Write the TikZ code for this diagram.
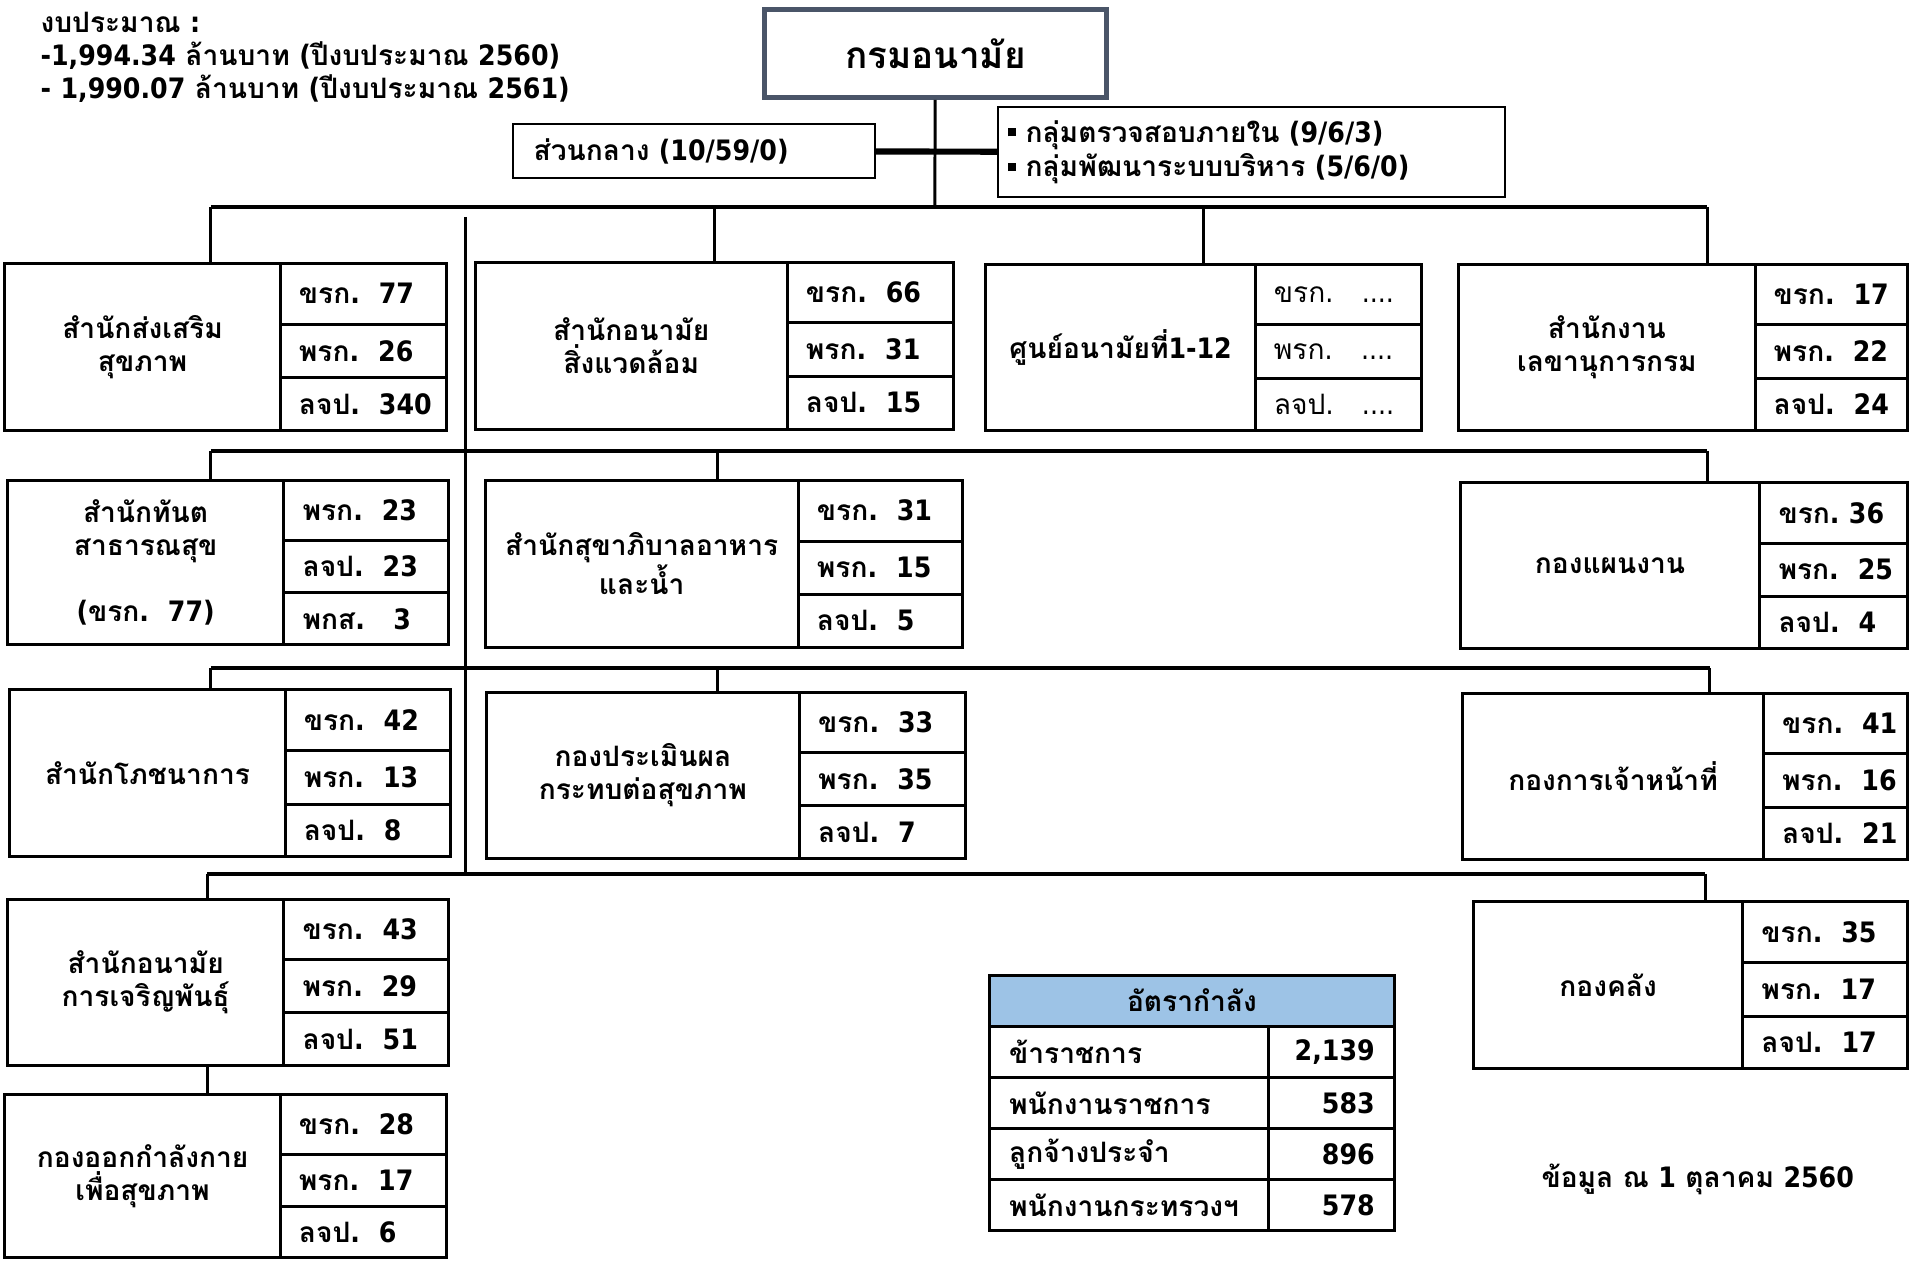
\documentclass[tikz,border=0pt]{standalone}
\usepackage{fontspec}
\setmainfont[Script=Thai]{Loma}
\newfontfamily\digitfam{DejaVu Sans Condensed}
% digits and punctuation in a wider face
\XeTeXinterchartokenstate=1
\newXeTeXintercharclass\digclass
\XeTeXcharclass`\0=\digclass
\XeTeXcharclass`\1=\digclass
\XeTeXcharclass`\2=\digclass
\XeTeXcharclass`\3=\digclass
\XeTeXcharclass`\4=\digclass
\XeTeXcharclass`\5=\digclass
\XeTeXcharclass`\6=\digclass
\XeTeXcharclass`\7=\digclass
\XeTeXcharclass`\8=\digclass
\XeTeXcharclass`\9=\digclass
\XeTeXcharclass`\,=\digclass
\XeTeXcharclass`\.=\digclass
\XeTeXcharclass`\(=\digclass
\XeTeXcharclass`\)=\digclass
\XeTeXcharclass`\/=\digclass
\XeTeXcharclass`\-=\digclass
\XeTeXcharclass`\:=\digclass
\XeTeXinterchartoks 0 \digclass = {\digitfam}
\XeTeXinterchartoks 4095 \digclass = {\digitfam}
\XeTeXinterchartoks \digclass 0 = {\rmfamily}
\XeTeXinterchartoks \digclass 4095 = {\rmfamily}
\definecolor{slate}{HTML}{4A5568}
\definecolor{tblue}{HTML}{9DC3E6}
\newcommand{\ux}{0.024375cm}
\newcommand{\sqb}{\rule[0.2em]{0.3em}{0.3em}}
\tikzstyle{bus} = [line width=2.4pt]
\tikzstyle{link} = [line width=1.7pt]
\tikzstyle{unit} = [rectangle, draw=black, line width=1.7pt, anchor=north west, inner sep=0pt, outer sep=0pt]
\tikzstyle{unitName} = [align=center, inner sep=0pt]
\tikzstyle{cell} = [anchor=west, inner sep=0pt]
\tikzstyle{tcell} = [rectangle, draw=black, line width=1.7pt, anchor=north west, inner ysep=0pt, outer sep=0pt, minimum height=42*\ux]

\begin{document}
\begin{tikzpicture}[x=\ux, y=-\ux, font=\fontsize{16}{18.8}\selectfont\bfseries]
\useasboundingbox (0,0) rectangle (1568,1034);

% budget note
\node (budget) [anchor=north west, align=left, inner sep=0pt] at (33,10) {งบประมาณ :\\-1,994.34 ล้านบาท (ปีงบประมาณ 2560)\\- 1,990.07 ล้านบาท (ปีงบประมาณ 2561)};

% head and staff groups
\node (crm) [rectangle, draw=slate, line width=2.8pt, minimum width=281*\ux, minimum height=72*\ux, font=\fontsize{21}{24}\selectfont\bfseries] at (767.5,44) {กรมอนามัย};
\node (central) [rectangle, draw=black, line width=1.2pt, anchor=west, text width=263*\ux, inner xsep=17*\ux, minimum height=44*\ux] at (420,124) {ส่วนกลาง (10/59/0)};
\node (groups) [rectangle, draw=black, line width=1.2pt, anchor=north west, align=left, text width=400*\ux, inner xsep=8*\ux, minimum height=74*\ux] at (818,87) {\sqb\ กลุ่มตรวจสอบภายใน (9/6/3)\\[1pt]\sqb\ กลุ่มพัฒนาระบบบริหาร (5/6/0)};
\draw [line width=3.5pt] (central) -- (groups);

% units: name / x left / y top / x divider / x right / y bottom
\foreach \id/\xa/\ya/\xd/\xb/\yb/\nm/\ra/\rb/\rc in {
  A/4/216/230/366/353/{สำนักส่งเสริม\\สุขภาพ}/{ขรก.~~77}/{พรก.~~26}/{ลจป.~~340},
  B/390/215/646/782/352/{สำนักอนามัย\\สิ่งแวดล้อม}/{ขรก.~~66}/{พรก.~~31}/{ลจป.~~15},
  C/809/217/1030/1166/353/{ศูนย์อนามัยที่1-12}/{\mdseries ขรก.~~~....}/{\mdseries พรก.~~~....}/{\mdseries ลจป.~~~....},
  D/1197/217/1440/1565/353/{สำนักงาน\\เลขานุการกรม}/{ขรก.~~17}/{พรก.~~22}/{ลจป.~~24},
  E/6/394/233/368/529/{สำนักทันต\\สาธารณสุข\\[1.2em](ขรก.~~77)}/{พรก.~~23}/{ลจป.~~23}/{พกส.~~~3},
  F/398/394/655/790/531/{สำนักสุขาภิบาลอาหาร\\และน้ำ}/{ขรก.~~31}/{พรก.~~15}/{ลจป.~~5},
  G/1198/396/1444/1565/532/{กองแผนงาน}/{ขรก.~36}/{พรก.~~25}/{ลจป.~~4},
  H/8/566/234/370/703/{สำนักโภชนาการ}/{ขรก.~~42}/{พรก.~~13}/{ลจป.~~8},
  I/399/568/656/792/704/{กองประเมินผล\\กระทบต่อสุขภาพ}/{ขรก.~~33}/{พรก.~~35}/{ลจป.~~7},
  J/1200/569/1447/1565/705/{กองการเจ้าหน้าที่}/{ขรก.~~41}/{พรก.~~16}/{ลจป.~~21},
  K/6/738/233/368/874/{สำนักอนามัย\\การเจริญพันธุ์}/{ขรก.~~43}/{พรก.~~29}/{ลจป.~~51},
  L/4/898/230/366/1032/{กองออกกำลังกาย\\เพื่อสุขภาพ}/{ขรก.~~28}/{พรก.~~17}/{ลจป.~~6},
  M/1209/740/1430/1565/877/{กองคลัง}/{ขรก.~~35}/{พรก.~~17}/{ลจป.~~17}}{
  \node (\id) [unit, minimum width={(\xb-\xa)*\ux}, minimum height={(\yb-\ya)*\ux}] at (\xa,\ya) {};
  \node (\id-n) [unitName] at ({(\xa+\xd)/2},{(\ya+\yb)/2}) {\nm};
  \draw [link] (\xd,\ya) -- (\xd,\yb)
    (\xd,{\ya+0.365*(\yb-\ya)}) -- (\xb,{\ya+0.365*(\yb-\ya)})
    (\xd,{\ya+0.685*(\yb-\ya)}) -- (\xb,{\ya+0.685*(\yb-\ya)});
  \node (\id-1) [cell] at ({\xd+15},{\ya+0.1825*(\yb-\ya)}) {\ra};
  \node (\id-2) [cell] at ({\xd+15},{\ya+0.525*(\yb-\ya)}) {\rb};
  \node (\id-3) [cell] at ({\xd+15},{\ya+0.8425*(\yb-\ya)}) {\rc};
}

% connectors
\coordinate (b1) at (767,170);
\coordinate (r1w) at (173,170);
\coordinate (r1e) at (1401,170);
\coordinate (r2w) at (173,370);
\coordinate (r2m) at (589,370);
\coordinate (r2e) at (1401,370);
\coordinate (r3w) at (173,548);
\coordinate (r3m) at (589,548);
\coordinate (r3e) at (1403,548);
\coordinate (r4w) at (170,717);
\coordinate (r4e) at (1399,717);
\coordinate (spine) at (382,178);
\draw [link] (crm) -- (b1);
\draw [bus] (r1w) -- (r1e);
\draw [bus] (r2w) -- (r2e);
\draw [bus] (r3w) -- (r3e);
\draw [bus] (r4w) -- (r4e);
\draw [link] (spine) -- (spine |- r4w);
\draw [link] (r1w) -- (r1w |- A.north);
\draw [link] (B.north |- r1w) -- (B.north);
\draw [link] (C.north |- r1w) -- (C.north);
\draw [link] (r1e) -- (r1e |- D.north);
\draw [link] (r2w) -- (r2w |- E.north);
\draw [link] (r2m) -- (r2m |- F.north);
\draw [link] (r2e) -- (r2e |- G.north);
\draw [link] (r3w) -- (r3w |- H.north);
\draw [link] (r3m) -- (r3m |- I.north);
\draw [link] (r3e) -- (r3e |- J.north);
\draw [link] (r4w) -- (r4w |- K.north);
\draw [link] (r4e) -- (r4e |- M.north);
\draw [link] (K.south -| r4w) -- (L.north -| r4w);

% staff table
\node (rate) [tcell, fill=tblue, minimum width=332*\ux] at (812,800) {อัตรากำลัง};
\foreach \i/\lab/\num in {1/ข้าราชการ/{2,139}, 2/พนักงานราชการ/583, 3/ลูกจ้างประจำ/896, 4/พนักงานกระทรวงฯ/578}{
  \node (rate\i a) [tcell, align=left, text width=197*\ux, inner xsep=16*\ux] at (812,{842+42*(\i-1)}) {\lab};
  \node (rate\i b) [tcell, align=right, text width=71*\ux, inner xsep=16*\ux] at (1041,{842+42*(\i-1)}) {\num};
}

\node (asof) at (1393,968) {ข้อมูล ณ 1 ตุลาคม 2560};
\end{tikzpicture}
\end{document}
